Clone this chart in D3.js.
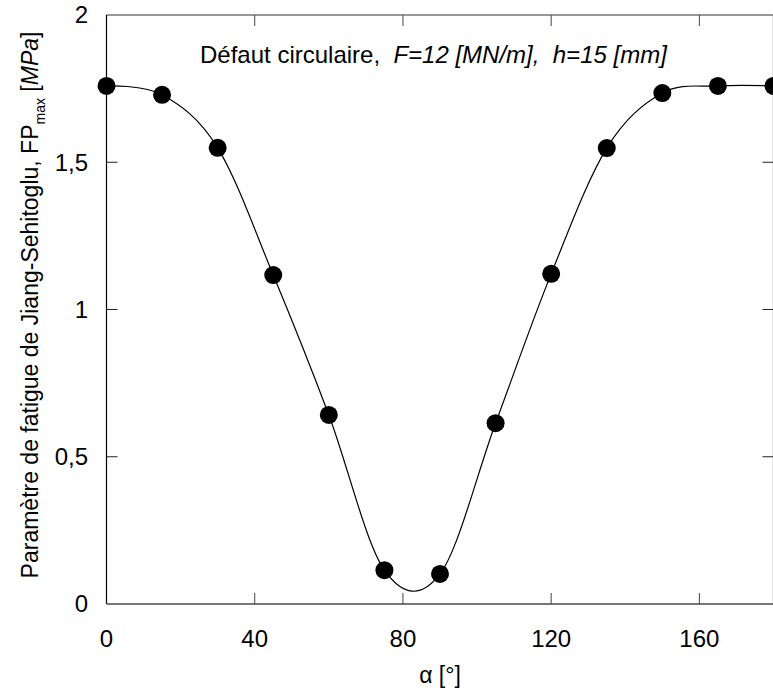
<!DOCTYPE html>
<html><head><meta charset="utf-8">
<script src="https://cdn.jsdelivr.net/npm/d3@7"></script>
<style>body{margin:0;background:#fff}svg{display:block;font-family:Arial,"Liberation Sans",sans-serif}</style>
</head><body>
<svg id="c" width="773" height="690"></svg>
<script>
const alpha = [0,15,30,45,60,75,90,105,120,135,150,165,180];
const fp = [1.759,1.729,1.549,1.117,0.642,0.115,0.102,0.614,1.121,1.548,1.735,1.759,1.759];
const xTicks = [0,40,80,120,160];
const yTicks = [0,0.5,1,1.5,2];
const yTickLabels = ["0","0,5","1","1,5","2"];

const svg = d3.select("#c");
const x = d3.scaleLinear().domain([0,180]).range([106.5,773.5]);
const y = d3.scaleLinear().domain([0,2]).range([604,15]);
const TL = 11;

// frame
svg.append("line").attr("x1",x(0)).attr("x2",x(180)).attr("y1",y(2)).attr("y2",y(2)).attr("stroke","#333").attr("stroke-width",1.2);
svg.append("line").attr("x1",x(0)).attr("x2",x(0)).attr("y1",y(0)).attr("y2",y(2)).attr("stroke","#000").attr("stroke-width",1.2);
svg.append("line").attr("x1",x(180)).attr("x2",x(180)).attr("y1",y(0)).attr("y2",y(2)).attr("stroke","#000").attr("stroke-width",1.2);
svg.append("line").attr("x1",x(0)).attr("x2",x(180)).attr("y1",y(0)).attr("y2",y(0)).attr("stroke","#777").attr("stroke-width",1.8);

// ticks
const xt = xTicks.filter(d=>d>0 && d<180);
svg.selectAll(".xtb").data(xt).join("line").attr("x1",d=>x(d)).attr("x2",d=>x(d)).attr("y1",y(0)).attr("y2",y(0)-TL).attr("stroke","#444").attr("stroke-width",1);
svg.selectAll(".xtt").data(xt).join("line").attr("x1",d=>x(d)).attr("x2",d=>x(d)).attr("y1",y(2)).attr("y2",y(2)+TL).attr("stroke","#444").attr("stroke-width",1);
const yt = yTicks.filter(d=>d>0 && d<2);
svg.selectAll(".ytl").data(yt).join("line").attr("x1",x(0)).attr("x2",x(0)+TL).attr("y1",d=>y(d)).attr("y2",d=>y(d)).attr("stroke","#222").attr("stroke-width",1);
svg.selectAll(".ytr").data(yt).join("line").attr("x1",x(180)).attr("x2",x(180)-TL).attr("y1",d=>y(d)).attr("y2",d=>y(d)).attr("stroke","#222").attr("stroke-width",1);

// tick labels
svg.selectAll(".xl").data(xTicks).join("text").attr("x",d=>x(d)).attr("y",647).attr("text-anchor","middle").attr("font-size",24).attr("fill","#000").text(d=>d);
svg.selectAll(".yl").data(yTicks).join("text").attr("x",88).attr("y",d=>y(d)).attr("dy","0.35em").attr("text-anchor","end").attr("font-size",24).attr("fill","#000").text((d,i)=>yTickLabels[i]);

// curve
const line = d3.line().x((d,i)=>x(alpha[i])).y(d=>y(d)).curve(d3.curveCardinal.tension(0));
svg.append("path").attr("d",line(fp)).attr("fill","none").attr("stroke","#000").attr("stroke-width",1.2);

// points
svg.selectAll(".pt").data(fp).join("circle").attr("cx",(d,i)=>x(alpha[i])).attr("cy",d=>y(d)).attr("r",9).attr("fill","#000");

// annotation
const t = svg.append("text").attr("x",200).attr("y",63).attr("font-size",24).attr("fill","#000").style("white-space","pre");
t.append("tspan").text("Défaut circulaire,  ");
t.append("tspan").attr("font-style","italic").text("F=12 [MN/m],  h=15 [mm]");

// x label
svg.append("text").attr("x",440).attr("y",683).attr("text-anchor","middle").attr("font-size",23).attr("fill","#000").text("α [°]");

// y label
const yl = svg.append("text").attr("transform","translate(38,305) rotate(-90)").attr("text-anchor","middle").attr("font-size",23).attr("fill","#000").style("white-space","pre");
yl.append("tspan").text("Paramètre de fatigue de Jiang-Sehitoglu, FP");
yl.append("tspan").attr("font-size",14).attr("dy",7).text("max");
yl.append("tspan").attr("dy",-7).text(" [");
yl.append("tspan").attr("font-style","italic").text("MPa");
yl.append("tspan").text("]");
</script>
</body></html>
